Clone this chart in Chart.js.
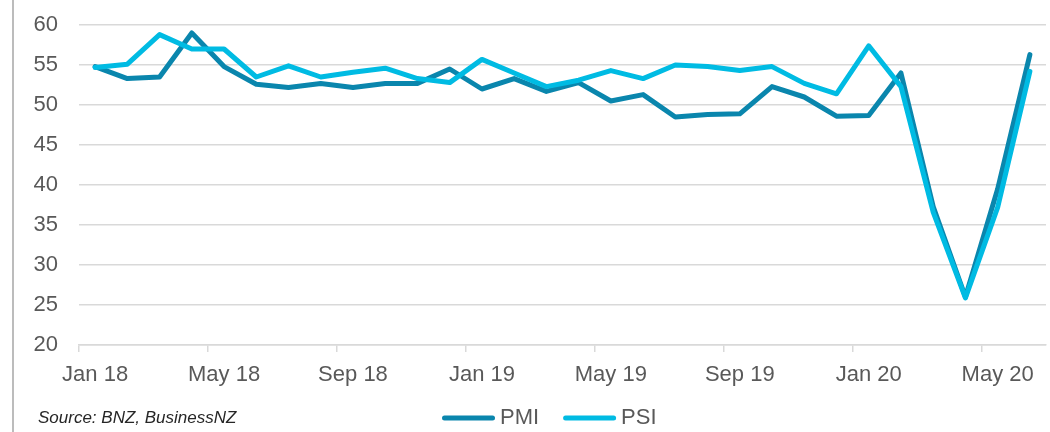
<!DOCTYPE html>
<html>
<head>
<meta charset="utf-8">
<script src="https://cdn.jsdelivr.net/npm/chart.js@4"></script>
<style>
  html, body { margin: 0; padding: 0; background: #fff; }
</style>
</head>
<body>
<canvas id="myChart" width="1050" height="432"></canvas>
<script>
const months = [
    'Jan 18', 'Feb 18', 'Mar 18', 'Apr 18', 'May 18', 'Jun 18', 'Jul 18', 'Aug 18', 'Sep 18', 'Oct 18', 'Nov 18', 'Dec 18',
    'Jan 19', 'Feb 19', 'Mar 19', 'Apr 19', 'May 19', 'Jun 19', 'Jul 19', 'Aug 19', 'Sep 19', 'Oct 19', 'Nov 19', 'Dec 19',
    'Jan 20', 'Feb 20', 'Mar 20', 'Apr 20', 'May 20', 'Jun 20'
];
const shownLabels = ['Jan 18', 'May 18', 'Sep 18', 'Jan 19', 'May 19', 'Sep 19', 'Jan 20', 'May 20'];
const pmi = [
    54.8, 53.3, 53.5, 59.0, 54.8, 52.6, 52.2, 52.7, 52.2, 52.7, 52.7, 54.5,
    52.0, 53.3, 51.7, 52.8, 50.5, 51.3, 48.5, 48.8, 48.9, 52.3, 51.0, 48.6,
    48.7, 54.0, 37.3, 26.0, 39.5, 56.3
];
const psi = [
    54.7, 55.1, 58.8, 57.0, 57.0, 53.5, 54.9, 53.5, 54.1, 54.6, 53.3, 52.8,
    55.7, 54.0, 52.3, 53.1, 54.3, 53.3, 55.0, 54.8, 54.3, 54.8, 52.7, 51.4,
    57.4, 52.3, 36.6, 25.9, 37.2, 54.2
];
const sourceNote = 'Source: BNZ, BusinessNZ';

const labelFont = { family: "'Liberation Sans', Arial, sans-serif", size: 22 };
const gridGrey = '#d9d9d9';

// left frame line, source note and legend drawn by hand to sit where the original has them
const extras = {
    id: 'extras',
    afterDraw(chart) {
        const ctx = chart.ctx;
        ctx.save();
        ctx.strokeStyle = '#a6a6a6';
        ctx.lineWidth = 1.5;
        ctx.beginPath();
        ctx.moveTo(13, 0);
        ctx.lineTo(13, 432);
        ctx.stroke();

        ctx.font = "italic 17px 'Liberation Sans', Arial, sans-serif";
        ctx.fillStyle = '#262626';
        ctx.textBaseline = 'middle';
        ctx.textAlign = 'left';
        ctx.fillText(sourceNote, 38, 418);

        let x = 442;
        const y = 418;
        ctx.font = "22px 'Liberation Sans', Arial, sans-serif";
        chart.data.datasets.forEach(ds => {
            ctx.strokeStyle = ds.borderColor;
            ctx.lineWidth = 5;
            ctx.lineCap = 'round';
            ctx.beginPath();
            ctx.moveTo(x + 2.5, y);
            ctx.lineTo(x + 50.5, y);
            ctx.stroke();
            ctx.fillStyle = '#595959';
            ctx.fillText(ds.label, x + 58, y);
            x += 58 + ctx.measureText(ds.label).width + 24;
        });
        ctx.restore();
    }
};

config = {
    type: 'line',
    data: {
        labels: months,
        datasets: [{
            label: 'PMI',
            data: pmi,
            borderColor: '#0a86ad',
            borderWidth: 5,
            order: 1
        }, {
            label: 'PSI',
            data: psi,
            borderColor: '#00bbe3',
            borderWidth: 5,
            order: 0
        }]
    },
    options: {
        responsive: false,
        animation: false,
        devicePixelRatio: 1,
        elements: {
            point: { radius: 0 },
            line: { tension: 0, borderJoinStyle: 'round', borderCapStyle: 'round' }
        },
        layout: {
            padding: { top: 25, right: 4, bottom: 46, left: 0 }
        },
        scales: {
            x: {
                offset: true,
                grid: {
                    offset: true,
                    drawOnChartArea: false,
                    tickLength: 7,
                    lineWidth: 1.5,
                    color: (c) => c.index % 4 === 0 ? gridGrey : 'rgba(0,0,0,0)'
                },
                border: { color: gridGrey, width: 1.5 },
                ticks: {
                    autoSkip: false,
                    maxRotation: 0,
                    padding: 10,
                    color: '#595959',
                    font: labelFont,
                    callback: function (val, i) {
                        const lab = this.getLabelForValue(val);
                        return shownLabels.includes(lab) ? lab : '';
                    }
                },
                afterFit: (s) => { s.height = 41; }
            },
            y: {
                min: 20,
                max: 60,
                // invisible tick marks keep the labels clear of the grid
                grid: { color: gridGrey, lineWidth: 1.5, tickLength: 21, tickColor: 'rgba(0,0,0,0)' },
                border: { display: false },
                ticks: {
                    stepSize: 5,
                    padding: 0,
                    color: '#595959',
                    font: labelFont
                },
                afterFit: (s) => { s.width = 79; }
            }
        },
        plugins: {
            legend: { display: false },
            tooltip: { enabled: false }
        }
    },
    plugins: [extras]
};

function buildChart() {
    const ctx = document.getElementById('myChart').getContext('2d');
    return new Chart(ctx, config);
}

window.addEventListener('load', () => {
    buildChart();
});
</script>
</body>
</html>
